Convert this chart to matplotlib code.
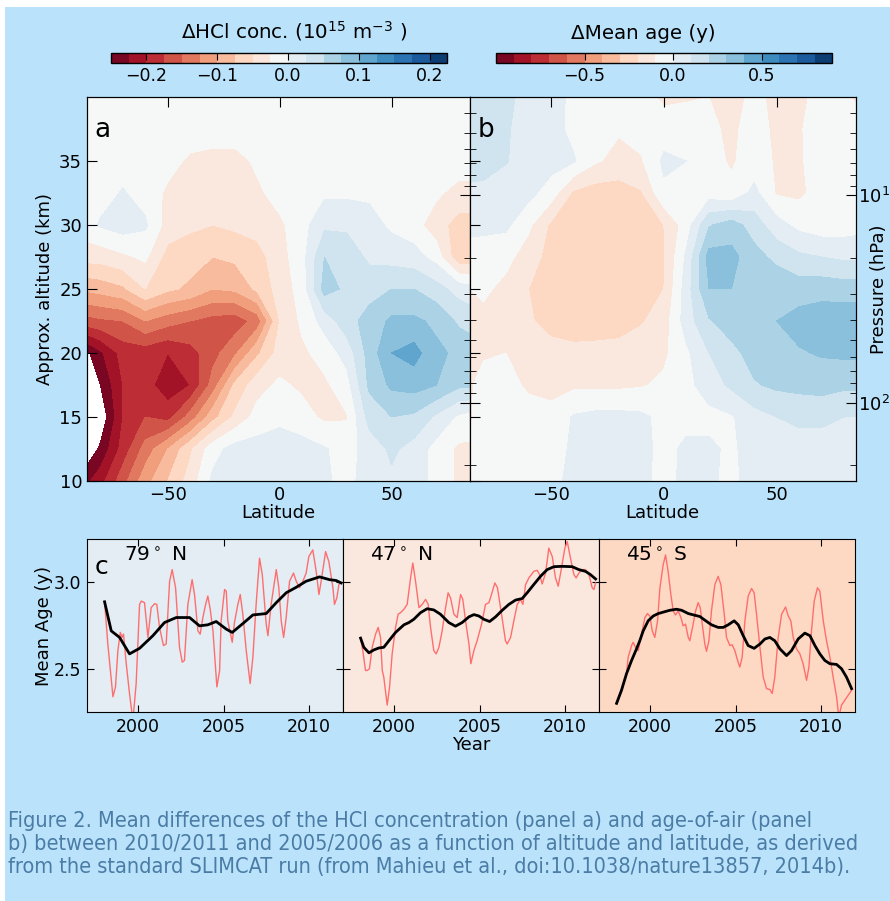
import numpy as np
import matplotlib
matplotlib.use('Agg')
import matplotlib.pyplot as plt
from matplotlib.patches import Rectangle
from matplotlib.ticker import LogLocator, NullFormatter

# ---- data ----
lat = [-86, -80, -70, -60, -50, -40, -30, -20, -10, 0, 10, 20, 30, 40, 50, 60, 70, 80, 85]
alt = [10, 12.5, 15, 17.5, 20, 22.5, 25, 27.5, 30, 32.5, 35, 37.5, 40]

# HCl concentration difference (1e15 m-3), rows = altitude, cols = latitude
hcl_diff = [
    [-0.23, -0.21, -0.16, -0.11, -0.075, -0.04, 0.005, 0.01, 0.01, 0.01, 0.01, 0.005, -0.01, 0.015, 0.02, 0.015, -0.01, -0.03, -0.03],
    [-0.27, -0.245, -0.19, -0.14, -0.10, -0.055, -0.01, 0.01, 0.01, 0.01, 0.01, 0.002, -0.01, 0.01, 0.03, 0.015, -0.01, -0.03, -0.03],
    [-0.30, -0.27, -0.20, -0.175, -0.185, -0.14, -0.085, -0.045, -0.015, -0.005, -0.015, -0.03, -0.027, 0.035, 0.05, 0.045, 0.02, -0.005, -0.01],
    [-0.30, -0.25, -0.20, -0.19, -0.215, -0.20, -0.14, -0.07, -0.035, -0.02, -0.03, -0.03, -0.01, 0.055, 0.08, 0.085, 0.075, 0.055, 0.055],
    [-0.255, -0.23, -0.19, -0.19, -0.20, -0.185, -0.16, -0.13, -0.08, -0.04, -0.03, -0.015, 0.01, 0.06, 0.10, 0.11, 0.08, 0.07, 0.065],
    [-0.16, -0.155, -0.15, -0.125, -0.14, -0.15, -0.16, -0.165, -0.14, -0.05, -0.02, 0.01, 0.04, 0.06, 0.08, 0.08, 0.07, 0.045, 0.04],
    [-0.095, -0.09, -0.08, -0.05, -0.07, -0.08, -0.10, -0.095, -0.07, -0.04, -0.015, 0.06, 0.045, 0.04, 0.05, 0.05, 0.035, 0.015, 0.01],
    [-0.04, -0.04, -0.03, -0.02, -0.06, -0.065, -0.075, -0.07, -0.06, -0.035, -0.01, 0.05, 0.04, 0.02, 0.015, 0.01, -0.01, -0.07, -0.07],
    [-0.01, 0.003, 0.012, 0.004, -0.035, -0.045, -0.05, -0.045, -0.04, -0.03, -0.01, 0.02, 0.02, 0.01, -0.005, -0.015, -0.04, -0.06, -0.06],
    [-0.01, -0.01, 0.002, -0.01, -0.03, -0.04, -0.045, -0.045, -0.03, -0.015, -0.01, -0.005, -0.005, -0.005, -0.005, -0.01, -0.02, -0.035, -0.035],
    [-0.01, -0.01, -0.01, -0.01, -0.015, -0.03, -0.035, -0.035, -0.02, -0.01, -0.01, -0.01, -0.01, -0.01, -0.01, -0.01, -0.01, -0.01, -0.01],
    [-0.01, -0.01, -0.01, -0.01, -0.01, -0.01, -0.01, -0.01, -0.01, -0.01, -0.01, -0.01, -0.01, -0.01, -0.01, -0.01, -0.01, -0.01, -0.01],
    [-0.01, -0.01, -0.01, -0.01, -0.01, -0.01, -0.01, -0.01, -0.01, -0.01, -0.01, -0.01, -0.01, -0.01, -0.01, -0.01, -0.01, -0.01, -0.01],
]

# mean age of air difference (y)
age_diff = [
    [-0.06, -0.05, -0.05, -0.05, -0.03, 0.03, 0.04, 0.04, 0.03, -0.04, 0.03, 0.02, -0.03, 0.05, 0.06, 0.06, 0.05, 0.05, 0.05],
    [-0.10, -0.05, -0.03, -0.05, -0.05, 0.02, 0.04, 0.04, 0.03, -0.03, 0.02, 0.02, -0.02, 0.05, 0.06, 0.06, 0.06, 0.05, 0.05],
    [-0.11, -0.05, -0.04, -0.05, -0.07, 0.01, 0.03, 0.03, 0.02, -0.03, -0.03, -0.03, -0.01, 0.06, 0.10, 0.12, 0.12, 0.10, 0.10],
    [-0.11, -0.07, -0.06, -0.12, -0.13, -0.12, -0.12, -0.12, -0.11, -0.08, -0.03, 0.05, 0.12, 0.19, 0.22, 0.23, 0.24, 0.22, 0.22],
    [-0.11, -0.11, -0.10, -0.15, -0.17, -0.18, -0.17, -0.16, -0.14, -0.12, -0.02, 0.10, 0.17, 0.24, 0.27, 0.29, 0.31, 0.32, 0.32],
    [-0.12, -0.13, -0.15, -0.19, -0.23, -0.24, -0.25, -0.25, -0.21, -0.15, 0.05, 0.19, 0.25, 0.27, 0.30, 0.34, 0.36, 0.37, 0.37],
    [-0.10, -0.08, -0.13, -0.20, -0.26, -0.28, -0.28, -0.28, -0.27, -0.20, 0.05, 0.30, 0.30, 0.27, 0.28, 0.25, 0.26, 0.25, 0.25],
    [-0.05, -0.06, -0.07, -0.15, -0.24, -0.28, -0.29, -0.29, -0.27, -0.21, 0.02, 0.34, 0.33, 0.24, 0.17, 0.12, 0.10, 0.08, 0.08],
    [0.03, 0.03, 0.02, -0.08, -0.22, -0.26, -0.28, -0.28, -0.26, -0.20, -0.05, 0.19, 0.25, 0.15, 0.04, -0.03, -0.06, -0.05, -0.04],
    [0.08, 0.08, 0.06, 0.03, -0.05, -0.22, -0.25, -0.25, -0.21, -0.02, -0.05, -0.05, -0.08, 0.03, -0.11, -0.12, -0.06, -0.05, -0.05],
    [0.14, 0.13, 0.105, 0.06, 0.04, 0.01, -0.09, -0.13, -0.11, 0.02, 0.0, -0.07, -0.11, -0.06, -0.11, -0.11, -0.06, -0.05, -0.05],
    [0.15, 0.14, 0.11, 0.06, 0.04, -0.03, -0.06, -0.09, -0.06, -0.05, -0.05, -0.08, -0.12, -0.06, -0.12, -0.11, -0.05, -0.05, -0.06],
    [0.15, 0.15, 0.12, 0.07, 0.05, -0.03, -0.05, -0.05, -0.06, -0.12, -0.11, -0.10, -0.13, -0.08, -0.12, -0.12, -0.07, -0.09, -0.11],
]

hcl_levels = np.linspace(-0.25, 0.225, 20)
age_levels = np.linspace(-1.0, 0.9, 20)
hcl_ticks = [-0.2, -0.1, 0.0, 0.1, 0.2]
age_ticks = [-0.5, 0.0, 0.5]

# panel c: monthly mean age (red) and smoothed (black)
n79_year = [1998.03, 1998.22, 1998.52, 1998.67, 1998.81, 1998.95, 1999.06, 1999.14, 1999.30, 1999.49,
            1999.69, 1999.88, 2000.08, 2000.18, 2000.37, 2000.57, 2000.76, 2000.96, 2001.09, 2001.25,
            2001.48, 2001.64, 2001.84, 2001.99, 2002.19, 2002.42, 2002.58, 2002.71, 2002.91, 2003.16,
            2003.30, 2003.50, 2003.63, 2003.79, 2003.95, 2004.08, 2004.22, 2004.38, 2004.61, 2004.77,
            2004.86, 2005.06, 2005.16, 2005.25, 2005.51, 2005.64, 2005.84, 2005.98, 2006.13, 2006.33,
            2006.56, 2006.72, 2006.91, 2007.11, 2007.27, 2007.50, 2007.60, 2007.79, 2008.09, 2008.24,
            2008.38, 2008.52, 2008.67, 2008.87, 2009.10, 2009.26, 2009.45, 2009.65, 2009.84, 2010.00,
            2010.23, 2010.43, 2010.59, 2010.72, 2010.98, 2011.17, 2011.41, 2011.50, 2011.64, 2011.76, 2011.84]
n79_age = [2.887, 2.643, 2.338, 2.395, 2.605, 2.710, 2.681, 2.700, 2.529, 2.357,
           2.200, 2.414, 2.872, 2.891, 2.882, 2.681, 2.853, 2.876, 2.872, 2.739,
           2.634, 2.643, 3.006, 3.073, 2.968, 2.624, 2.538, 2.548, 2.872, 3.015,
           2.929, 2.719, 2.700, 2.796, 2.872, 2.920, 2.844, 2.719, 2.395, 2.490,
           2.777, 2.958, 2.948, 2.777, 2.653, 2.767, 2.872, 2.929, 2.815, 2.605,
           2.414, 2.567, 2.872, 3.139, 3.044, 2.758, 2.691, 2.872, 3.073, 2.968,
           2.777, 2.681, 2.796, 3.006, 3.053, 3.006, 2.968, 3.006, 3.053, 3.149,
           3.187, 3.063, 2.929, 3.006, 3.177, 3.120, 2.968, 2.872, 2.910, 2.987, 2.996]
n79_fit_year = [1998.03, 1998.42, 1998.91, 1999.49, 2000.08, 2000.86, 2001.54, 2002.23, 2003.01, 2003.59,
                2004.08, 2004.57, 2005.16, 2005.51, 2006.13, 2006.72, 2007.50, 2008.09, 2008.67, 2009.26,
                2009.84, 2010.63, 2011.21, 2011.60, 2011.89]
n79_fit_age = [2.887, 2.719, 2.681, 2.586, 2.618, 2.691, 2.767, 2.796, 2.796, 2.748,
               2.754, 2.773, 2.729, 2.710, 2.761, 2.811, 2.819, 2.882, 2.939, 2.971,
               3.006, 3.031, 3.015, 3.010, 2.996]

n47_year = [1998.03, 1998.16, 1998.32, 1998.42, 1998.55, 1998.71, 1998.91, 1999.06, 1999.20, 1999.30,
            1999.39, 1999.53, 1999.59, 1999.73, 1999.88, 2000.08, 2000.23, 2000.37, 2000.57, 2000.76,
            2000.96, 2001.09, 2001.25, 2001.45, 2001.64, 2001.84, 2001.99, 2002.13, 2002.32, 2002.46,
            2002.62, 2002.81, 2003.01, 2003.16, 2003.30, 2003.50, 2003.69, 2003.89, 2004.02, 2004.18,
            2004.38, 2004.49, 2004.67, 2004.86, 2005.12, 2005.35, 2005.55, 2005.70, 2005.90, 2006.05,
            2006.29, 2006.52, 2006.62, 2006.82, 2007.01, 2007.21, 2007.40, 2007.54, 2007.70, 2007.89,
            2008.18, 2008.38, 2008.52, 2008.67, 2008.87, 2009.06, 2009.26, 2009.45, 2009.61, 2009.75,
            2010.00, 2010.14, 2010.33, 2010.53, 2010.66, 2010.82, 2011.02, 2011.21, 2011.41, 2011.60,
            2011.70, 2011.80]
n47_age = [2.677, 2.605, 2.490, 2.490, 2.500, 2.624, 2.700, 2.739, 2.681, 2.490,
           2.452, 2.338, 2.290, 2.395, 2.586, 2.739, 2.815, 2.824, 2.844, 2.872,
           3.025, 3.111, 3.006, 2.853, 2.872, 2.901, 2.872, 2.739, 2.605, 2.586,
           2.624, 2.719, 2.853, 2.939, 2.910, 2.815, 2.796, 2.929, 2.901, 2.777,
           2.643, 2.529, 2.605, 2.662, 2.758, 2.872, 2.882, 2.929, 2.996, 2.968,
           2.815, 2.662, 2.643, 2.681, 2.777, 2.872, 2.901, 2.872, 2.987, 3.025,
           3.063, 3.069, 3.044, 2.990, 3.053, 3.197, 3.149, 3.025, 2.977, 3.053,
           3.197, 3.235, 3.139, 3.044, 3.025, 3.053, 3.073, 3.073, 3.044, 2.968,
           2.958, 2.996]
n47_fit_year = [1998.03, 1998.22, 1998.52, 1998.81, 1999.10, 1999.39, 1999.69, 2000.08, 2000.57, 2000.86,
                2001.15, 2001.54, 2001.93, 2002.32, 2002.71, 2003.20, 2003.59, 2003.98, 2004.38, 2004.67,
                2004.96, 2005.25, 2005.59, 2005.94, 2006.33, 2006.72, 2007.11, 2007.50, 2007.79, 2008.18,
                2008.57, 2008.96, 2009.36, 2009.84, 2010.43, 2010.82, 2011.21, 2011.50, 2011.80]
n47_fit_age = [2.677, 2.624, 2.592, 2.609, 2.620, 2.624, 2.662, 2.710, 2.754, 2.767,
               2.786, 2.824, 2.847, 2.840, 2.815, 2.767, 2.746, 2.767, 2.800, 2.813,
               2.805, 2.786, 2.773, 2.800, 2.838, 2.872, 2.897, 2.906, 2.939, 2.987,
               3.034, 3.073, 3.090, 3.092, 3.090, 3.073, 3.063, 3.044, 3.019]

s45_year = [1998.03, 1998.32, 1998.61, 1998.71, 1998.91, 1999.00, 1999.14, 1999.30, 1999.49, 1999.69,
            1999.84, 1999.98, 2000.12, 2000.27, 2000.43, 2000.57, 2000.76, 2000.90, 2001.05, 2001.21,
            2001.35, 2001.48, 2001.64, 2001.80, 2001.93, 2002.07, 2002.23, 2002.32, 2002.48, 2002.66,
            2002.81, 2002.93, 2003.05, 2003.20, 2003.30, 2003.44, 2003.59, 2003.79, 2003.98, 2004.14,
            2004.34, 2004.47, 2004.67, 2004.80, 2004.96, 2005.12, 2005.25, 2005.39, 2005.55, 2005.74,
            2005.94, 2006.09, 2006.23, 2006.43, 2006.62, 2006.82, 2007.01, 2007.15, 2007.30, 2007.50,
            2007.70, 2007.93, 2008.09, 2008.24, 2008.38, 2008.57, 2008.77, 2008.96, 2009.16, 2009.30,
            2009.45, 2009.61, 2009.80, 2009.94, 2010.14, 2010.33, 2010.53, 2010.72, 2010.92, 2011.05,
            2011.21, 2011.41, 2011.60, 2011.80]
s45_age = [2.300, 2.380, 2.470, 2.567, 2.634, 2.653, 2.624, 2.605, 2.700, 2.796,
           2.819, 2.805, 2.719, 2.681, 2.777, 2.968, 3.101, 3.158, 3.063, 2.929,
           2.834, 2.811, 2.834, 2.796, 2.748, 2.758, 2.681, 2.662, 2.739, 2.834,
           2.882, 2.853, 2.758, 2.643, 2.601, 2.662, 2.834, 2.987, 3.034, 2.987,
           2.815, 2.681, 2.634, 2.639, 2.605, 2.548, 2.510, 2.567, 2.777, 2.920,
           2.964, 2.939, 2.815, 2.624, 2.452, 2.385, 2.380, 2.357, 2.452, 2.681,
           2.815, 2.857, 2.805, 2.777, 2.681, 2.615, 2.586, 2.529, 2.433, 2.510,
           2.719, 2.891, 2.968, 2.948, 2.777, 2.662, 2.567, 2.452, 2.338, 2.220,
           2.290, 2.319, 2.347, 2.376]
s45_fit_year = [1998.03, 1998.32, 1998.61, 1998.91, 1999.20, 1999.39, 1999.59, 1999.88, 2000.18, 2000.47,
                2000.86, 2001.15, 2001.54, 2001.84, 2002.23, 2002.62, 2002.91, 2003.20, 2003.59, 2003.98,
                2004.28, 2004.57, 2004.92, 2005.16, 2005.45, 2005.74, 2006.09, 2006.43, 2006.72, 2007.01,
                2007.30, 2007.60, 2007.99, 2008.28, 2008.67, 2009.06, 2009.36, 2009.65, 2009.94, 2010.23,
                2010.53, 2010.92, 2011.21, 2011.50, 2011.80]
s45_fit_age = [2.300, 2.376, 2.471, 2.548, 2.615, 2.662, 2.719, 2.777, 2.805, 2.819,
               2.830, 2.838, 2.844, 2.838, 2.819, 2.809, 2.802, 2.781, 2.754, 2.739,
               2.739, 2.754, 2.777, 2.754, 2.691, 2.634, 2.618, 2.643, 2.672, 2.681,
               2.662, 2.615, 2.576, 2.605, 2.672, 2.706, 2.691, 2.634, 2.586, 2.548,
               2.529, 2.525, 2.500, 2.452, 2.385]

station_names = ['79$^\\circ$ N', '47$^\\circ$ N', '45$^\\circ$ S']
station_age_change = [0.05, -0.15, -0.25]   # background shading, from the age colour scale

caption_lines = [
    'Figure 2. Mean differences of the HCl concentration (panel a) and age-of-air (panel',
    'b) between 2010/2011 and 2005/2006 as a function of altitude and latitude, as derived',
    'from the standard SLIMCAT run (from Mahieu et al., doi:10.1038/nature13857, 2014b).',
]

BG = '#bae3fb'
CAPTION_COLOR = '#4b7ca6'
RED = '#ff6e6e'

W, H = 890, 901


def fig_rect(x0, y0, x1, y1):
    """pixel box (top-left origin) -> figure fraction rect"""
    return [x0 / W, 1 - y1 / H, (x1 - x0) / W, (y1 - y0) / H]


# pressure range matching the 10-40 km altitude axis
p_bottom, p_top = 238.6, 3.36

plt.rcParams['font.family'] = 'DejaVu Sans'
fig = plt.figure(figsize=(W / 100, H / 100), dpi=100, facecolor='white')
fig.patches.append(Rectangle((5 / W, 0), 1, 1 - 7 / H, transform=fig.transFigure,
                             facecolor=BG, edgecolor='none', zorder=-10))

LAT, ALT = np.meshgrid(lat, alt)


def pressure_axis(ax, labels):
    axp = ax.twinx()
    axp.set_yscale('log')
    axp.set_ylim(p_bottom, p_top)
    axp.yaxis.set_major_locator(LogLocator(base=10))
    axp.yaxis.set_minor_locator(LogLocator(base=10, subs=np.arange(2, 10)))
    axp.yaxis.set_minor_formatter(NullFormatter())
    axp.tick_params(which='both', direction='in', labelright=labels, labelsize=13, pad=2)
    axp.tick_params(which='major', length=7)
    axp.tick_params(which='minor', length=4)
    return axp


# ---- panel a ----
ax_a = fig.add_axes(fig_rect(87, 97, 470, 481))
cs_a = ax_a.contourf(LAT, ALT, np.array(hcl_diff), levels=hcl_levels, cmap='RdBu')
ax_a.set_xlim(-86, 85)
ax_a.set_ylim(10, 40)
ax_a.set_xticks([-50, 0, 50])
ax_a.set_yticks([10, 15, 20, 25, 30, 35])
ax_a.tick_params(labelsize=13, direction='in', length=7, top=True, bottom=False, right=False)
ax_a.set_xlabel('Latitude', fontsize=13, labelpad=0)
ax_a.set_ylabel('Approx. altitude (km)', fontsize=13, labelpad=4)
ax_a.text(0.02, 0.915, 'a', transform=ax_a.transAxes, fontsize=19, va='center', ha='left')
pressure_axis(ax_a, False)

# ---- panel b ----
ax_b = fig.add_axes(fig_rect(470, 97, 855.5, 481))
cs_b = ax_b.contourf(LAT, ALT, np.array(age_diff), levels=age_levels, cmap='RdBu')
ax_b.set_xlim(-86, 85)
ax_b.set_ylim(10, 40)
ax_b.set_xticks([-50, 0, 50])
ax_b.set_yticks([10, 15, 20, 25, 30, 35])
ax_b.tick_params(labelsize=13, direction='in', length=7, top=True, bottom=False, labelleft=False)
ax_b.set_xlabel('Latitude', fontsize=13, labelpad=0)
ax_b.text(0.02, 0.915, 'b', transform=ax_b.transAxes, fontsize=19, va='center', ha='left')
ax_b_p = pressure_axis(ax_b, True)
ax_b_p.tick_params(which='both', left=True)
ax_b_p.set_ylabel('Pressure (hPa)', fontsize=13)
ax_b_p.yaxis.set_label_coords(1.037, 0.5)

# ---- colour bars ----
for cs, rect, ticks, title, tx in [
        (cs_a, fig_rect(111, 53, 447.5, 63), hcl_ticks, 'ΔHCl conc. (10$^{15}$ m$^{-3}$ )', 0.544),
        (cs_b, fig_rect(496, 53, 832.5, 63), age_ticks, 'ΔMean age (y)', 0.437)]:
    cax = fig.add_axes(rect)
    cb = fig.colorbar(cs, cax=cax, orientation='horizontal', ticks=ticks)
    cax.tick_params(direction='in', top=True, bottom=False, labeltop=False, labelbottom=True,
                    length=5, labelsize=12.5, pad=3)
    cb.outline.set_linewidth(1.0)
    cax.text(tx, 2.0, title, transform=cax.transAxes, fontsize=14.3, ha='center', va='bottom')

# ---- panel c ----
age_cmap = cs_b.cmap
age_norm = cs_b.norm
series = [(n79_year, n79_age, n79_fit_year, n79_fit_age),
          (n47_year, n47_age, n47_fit_year, n47_fit_age),
          (s45_year, s45_age, s45_fit_year, s45_fit_age)]
lefts = [87, 343, 599]
for i, (yr, age, fyr, fage) in enumerate(series):
    ax = fig.add_axes(fig_rect(lefts[i], 539, lefts[i] + 256, 712))
    # shade with the colour of the age change bin
    k = np.searchsorted(age_levels, station_age_change[i]) - 1
    mid = 0.5 * (age_levels[k] + age_levels[k + 1])
    ax.set_facecolor(age_cmap(age_norm(mid)))
    ax.plot(yr, age, color=RED, lw=1.0)
    ax.plot(fyr, fage, color='black', lw=2.0)
    ax.set_xlim(1997, 2012)
    ax.set_ylim(2.25, 3.25)
    ax.set_xticks([2000, 2005, 2010])
    ax.set_yticks([2.5, 3.0])
    ax.tick_params(direction='in', top=True, right=True, length=5, labelsize=12.5, pad=4)
    if i == 0:
        ax.set_ylabel('Mean Age (y)', fontsize=13, labelpad=1)
        ax.text(0.03, 0.84, 'c', transform=ax.transAxes, fontsize=18, va='center')
        ax.text(0.145, 0.905, station_names[i], transform=ax.transAxes, fontsize=14.5, va='center')
    else:
        ax.tick_params(labelleft=False)
        ax.text(0.105, 0.905, station_names[i], transform=ax.transAxes, fontsize=14.5, va='center')
    if i == 1:
        ax.set_xlabel('Year', fontsize=13, labelpad=0)

# ---- caption ----
for j, line in enumerate(caption_lines):
    fig.text(8 / W, 1 - (827 + 23 * j) / H, line, fontsize=15.6, color=CAPTION_COLOR,
             fontstretch='condensed', va='baseline', ha='left')

fig.savefig('out.png', dpi=100, facecolor=fig.get_facecolor())
